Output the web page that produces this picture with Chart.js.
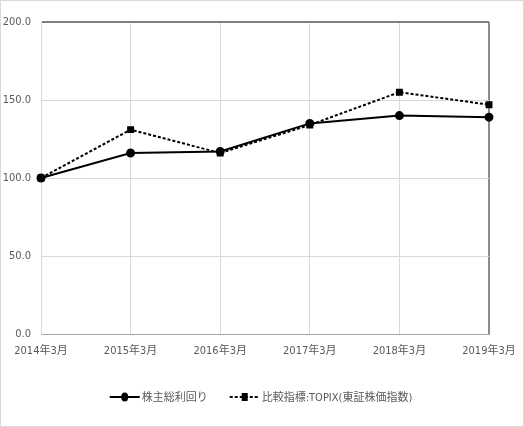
<!DOCTYPE html>
<html>
<head>
<meta charset="utf-8">
<script src="https://cdn.jsdelivr.net/npm/chart.js@4.4.1/dist/chart.umd.min.js"></script>
<style>
  html, body { margin: 0; padding: 0; background: #fff; }
  #wrap { position: relative; width: 522px; height: 425px; border: 1px solid #d9d9d9; }
</style>
</head>
<body>
<div id="wrap"><canvas id="myChart" width="522" height="425"></canvas></div>
<script>
// data
const periods = ['2014年3月', '2015年3月', '2016年3月', '2017年3月', '2018年3月', '2019年3月'];
const tsrValues = [100, 116, 117, 135, 140, 139];
const topixValues = [100, 131, 116, 134, 155, 147];
const seriesNames = ['株主総利回り', '比較指標:TOPIX(東証株価指数)'];

const FONT = '"DejaVu Sans Condensed", "Noto Sans CJK JP", sans-serif';
const TEXT = '#595959';

// draws the legend below the plot: line + marker + label
const bottomLegend = {
    id: 'bottomLegend',
    afterDraw(chart) {
        const ctx = chart.ctx;
        const y = 396;
        ctx.save();
        ctx.font = '11px ' + FONT;
        const items = chart.data.datasets.map(ds => ({
            ds: ds,
            w: 34 + ctx.measureText(ds.label).width
        }));
        const gap = 20;
        let total = items.reduce((a, it) => a + it.w, 0) + gap * (items.length - 1);
        let x = (chart.width - total) / 2;
        items.forEach(it => {
            const ds = it.ds;
            ctx.strokeStyle = ds.borderColor;
            ctx.lineWidth = 2;
            ctx.setLineDash(ds.borderDash || []);
            ctx.beginPath();
            ctx.moveTo(x, y);
            ctx.lineTo(x + 30, y);
            ctx.stroke();
            ctx.setLineDash([]);
            ctx.fillStyle = ds.pointBackgroundColor;
            if (ds.pointStyle === 'rect') {
                ctx.fillRect(x + 12, y - 4, 6, 8);
            } else {
                ctx.beginPath();
                ctx.ellipse(x + 15, y, 3.5, 4.5, 0, 0, Math.PI * 2);
                ctx.fill();
            }
            ctx.fillStyle = TEXT;
            ctx.textBaseline = 'middle';
            ctx.fillText(ds.label, x + 32, y + 1);
            x += it.w + gap;
        });
        ctx.restore();
    }
};

new Chart(document.getElementById('myChart'), {
    type: 'line',
    data: {
        labels: periods,
        datasets: [{
            label: seriesNames[0],
            data: tsrValues,
            borderColor: '#000',
            backgroundColor: '#000',
            borderWidth: 2,
            pointStyle: 'circle',
            pointRadius: 3.5,
            pointBackgroundColor: '#000',
            pointBorderColor: '#000',
            tension: 0
        }, {
            label: seriesNames[1],
            data: topixValues,
            borderColor: '#000',
            backgroundColor: '#000',
            borderWidth: 2,
            borderDash: [3, 2],
            pointStyle: 'rect',
            pointRadius: 3.5,
            pointBackgroundColor: '#000',
            pointBorderColor: '#000',
            tension: 0
        }]
    },
    options: {
        responsive: false,
        animation: false,
        layout: { padding: { top: 21, right: 34, left: 0, bottom: 0 } },
        plugins: {
            legend: { display: false },
            tooltip: { enabled: false }
        },
        scales: {
            x: {
                offset: false,
                grid: {
                    color: ctx => ctx.index === periods.length - 1 ? '#8c8c8c' : '#d9d9d9',
                    lineWidth: ctx => ctx.index === periods.length - 1 ? 2 : 1,
                    drawTicks: false
                },
                border: { color: '#a6a6a6', width: 1 },
                ticks: {
                    color: TEXT,
                    font: { size: 11, family: FONT },
                    padding: 11,
                    maxRotation: 0,
                    autoSkip: false
                },
                afterFit: s => { s.height = 92; s.paddingLeft = 0; s.paddingRight = 0; }
            },
            y: {
                min: 0,
                max: 200,
                grid: {
                    color: ctx => ctx.tick && ctx.tick.value === 200 ? '#7f7f7f' : '#d9d9d9',
                    lineWidth: ctx => ctx.tick && ctx.tick.value === 200 ? 2 : 1,
                    drawTicks: false
                },
                border: { color: '#d9d9d9', width: 1 },
                ticks: {
                    stepSize: 50,
                    color: TEXT,
                    font: { size: 11, family: FONT },
                    padding: 10,
                    callback: v => v.toFixed(1)
                },
                afterFit: s => { s.width = 40; }
            }
        }
    },
    plugins: [bottomLegend]
});
</script>
</body>
</html>
